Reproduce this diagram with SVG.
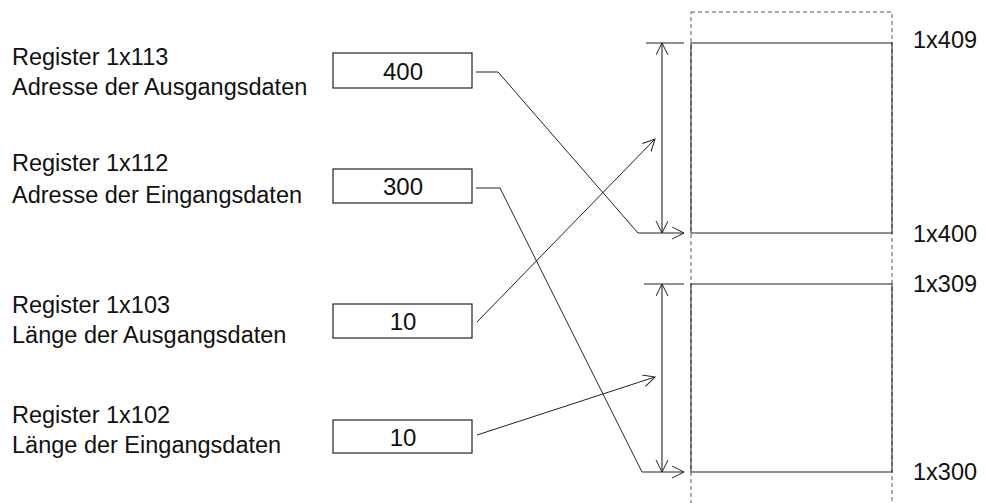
<svg xmlns="http://www.w3.org/2000/svg" width="987" height="503" viewBox="0 0 987 503">
<defs>
<style>
text{font-family:"Liberation Sans",Arial,sans-serif;font-size:23.5px;fill:#111}
.num{text-anchor:middle;font-size:24px}
.box{fill:#fff;stroke:#222;stroke-width:1.2}
.ln{fill:none;stroke:#222;stroke-width:1}
.dim{fill:none;stroke:#555;stroke-width:1.4}
.dash{fill:none;stroke:#555;stroke-width:1;stroke-dasharray:4,3}
</style>
<marker id="arr" markerWidth="14" markerHeight="14" refX="12" refY="6" orient="auto-start-reverse" markerUnits="userSpaceOnUse">
<path d="M0,0 L12,6 L0,12" fill="none" stroke="#222" stroke-width="1"/>
</marker>
</defs>
<rect width="987" height="503" fill="#fff"/>
<g id="memory">
<rect class="dash" x="691" y="12" width="201" height="500"/>
<rect class="ln" x="691" y="43" width="201" height="190" stroke-width="1.3"/>
<rect class="ln" x="691" y="284" width="201" height="188" stroke-width="1.3"/>
<text x="913" y="48">1x409</text>
<text x="913" y="242">1x400</text>
<text x="913" y="292">1x309</text>
<text x="913" y="480">1x300</text>
</g>
<g id="reg113">
<text x="12" y="65">Register 1x113</text>
<text x="12" y="95">Adresse der Ausgangsdaten</text>
<rect class="box" x="333" y="53" width="139" height="35"/>
<text class="num" x="403" y="80">400</text>
</g>
<g id="reg112">
<text x="12" y="171">Register 1x112</text>
<text x="12" y="203">Adresse der Eingangsdaten</text>
<rect class="box" x="333" y="169" width="139" height="34"/>
<text class="num" x="403" y="195">300</text>
</g>
<g id="reg103">
<text x="12" y="313">Register 1x103</text>
<text x="12" y="343">Länge der Ausgangsdaten</text>
<rect class="box" x="333" y="304" width="139" height="34"/>
<text class="num" x="403" y="330">10</text>
</g>
<g id="reg102">
<text x="12" y="423">Register 1x102</text>
<text x="12" y="453">Länge der Eingangsdaten</text>
<rect class="box" x="333" y="420" width="139" height="33"/>
<text class="num" x="403" y="446">10</text>
</g>
<g id="connectors">
<line class="ln" x1="646" y1="43" x2="684" y2="43"/>
<line class="dim" x1="662" y1="43" x2="662" y2="233" marker-start="url(#arr)" marker-end="url(#arr)"/>
<line class="ln" x1="644" y1="284" x2="684" y2="284"/>
<line class="dim" x1="662" y1="284" x2="662" y2="472" marker-start="url(#arr)" marker-end="url(#arr)"/>
<polyline class="ln" points="476,72 498,72 638,233 684,233" marker-end="url(#arr)"/>
<polyline class="ln" points="476,188 500,188 642,472 684,472" marker-end="url(#arr)"/>
<line class="ln" x1="477" y1="322" x2="655" y2="139" marker-end="url(#arr)"/>
<line class="ln" x1="477" y1="435" x2="655" y2="377" marker-end="url(#arr)"/>
</g>
</svg>
